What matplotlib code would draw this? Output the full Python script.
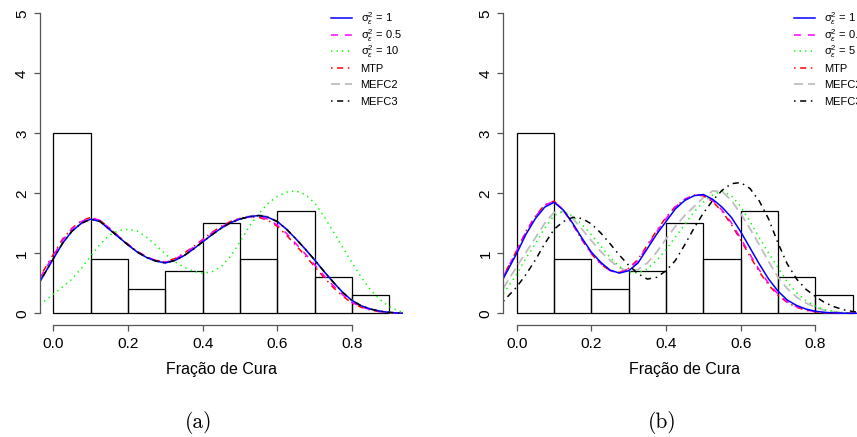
import matplotlib
matplotlib.use("Agg")
import matplotlib.pyplot as plt
from matplotlib.transforms import ScaledTranslation

plt.rcParams["font.family"] = ["Liberation Sans", "DejaVu Sans"]
plt.rcParams["mathtext.fontset"] = "custom"
plt.rcParams["mathtext.rm"] = "Liberation Sans"
plt.rcParams["mathtext.it"] = "Liberation Sans:italic"
plt.rcParams["lines.scale_dashes"] = False

# histogram of the observed cure fractions (density scale)
bin_edges = [0.0, 0.1, 0.2, 0.3, 0.4, 0.5, 0.6, 0.7, 0.8, 0.9]
bin_heights = [3.0, 0.9, 0.4, 0.7, 1.5, 0.9, 1.7, 0.6, 0.3]

# points where the fitted densities were evaluated
grid = [-0.036, 0.000, 0.025, 0.050, 0.075, 0.100, 0.125, 0.150, 0.175, 0.200,
        0.225, 0.250, 0.275, 0.300, 0.325, 0.350, 0.375, 0.400, 0.425, 0.450,
        0.475, 0.500, 0.525, 0.550, 0.575, 0.600, 0.625, 0.650, 0.675, 0.700,
        0.725, 0.750, 0.775, 0.800, 0.825, 0.850, 0.875, 0.900, 0.925, 0.936]

# panel (a): fitted densities
a_s1 = [0.53, 0.91, 1.17, 1.37, 1.50, 1.57, 1.53, 1.40, 1.27, 1.14,
        1.02, 0.93, 0.87, 0.84, 0.88, 0.96, 1.07, 1.19, 1.31, 1.42,
        1.51, 1.57, 1.61, 1.63, 1.60, 1.53, 1.40, 1.24, 1.07, 0.89,
        0.70, 0.52, 0.35, 0.215, 0.125, 0.07, 0.035, 0.015, 0.004, 0.002]
a_s05 = [0.59, 0.96, 1.22, 1.41, 1.53, 1.59, 1.55, 1.42, 1.28, 1.15,
         1.03, 0.94, 0.88, 0.85, 0.90, 0.99, 1.10, 1.22, 1.34, 1.44,
         1.52, 1.58, 1.61, 1.61, 1.57, 1.47, 1.33, 1.16, 0.99, 0.81,
         0.63, 0.46, 0.31, 0.18, 0.11, 0.06, 0.028, 0.012, 0.004, 0.001]
a_s10 = [0.14, 0.32, 0.44, 0.57, 0.75, 0.95, 1.15, 1.30, 1.38, 1.40,
         1.37, 1.27, 1.13, 0.99, 0.86, 0.77, 0.70, 0.67, 0.69, 0.78,
         0.95, 1.19, 1.45, 1.66, 1.83, 1.95, 2.02, 2.04, 1.98, 1.84,
         1.62, 1.36, 1.10, 0.85, 0.60, 0.39, 0.23, 0.11, 0.04, 0.02]
a_mtp = [0.61, 0.98, 1.24, 1.42, 1.54, 1.60, 1.55, 1.42, 1.28, 1.15,
         1.03, 0.94, 0.88, 0.86, 0.91, 1.00, 1.11, 1.23, 1.35, 1.45,
         1.53, 1.58, 1.605, 1.60, 1.55, 1.45, 1.30, 1.13, 0.96, 0.78,
         0.60, 0.43, 0.29, 0.17, 0.10, 0.055, 0.025, 0.01, 0.003, 0.001]
a_mefc2 = [0.53, 0.91, 1.17, 1.37, 1.50, 1.57, 1.53, 1.40, 1.27, 1.14,
           1.02, 0.93, 0.87, 0.84, 0.88, 0.96, 1.07, 1.19, 1.31, 1.42,
           1.51, 1.58, 1.62, 1.64, 1.61, 1.53, 1.40, 1.24, 1.07, 0.89,
           0.70, 0.52, 0.35, 0.215, 0.125, 0.07, 0.035, 0.015, 0.004, 0.002]
a_mefc3 = [0.53, 0.91, 1.17, 1.37, 1.50, 1.57, 1.53, 1.40, 1.27, 1.14,
           1.02, 0.93, 0.87, 0.84, 0.88, 0.96, 1.07, 1.19, 1.31, 1.42,
           1.51, 1.57, 1.61, 1.63, 1.60, 1.53, 1.40, 1.24, 1.07, 0.89,
           0.70, 0.52, 0.35, 0.215, 0.125, 0.07, 0.035, 0.015, 0.004, 0.002]

# panel (b): fitted densities
b_s1 = [0.58, 1.00, 1.32, 1.58, 1.77, 1.85, 1.72, 1.50, 1.25, 1.02,
        0.85, 0.72, 0.67, 0.71, 0.84, 1.08, 1.32, 1.53, 1.74, 1.88,
        1.96, 1.98, 1.90, 1.77, 1.60, 1.36, 1.09, 0.82, 0.57, 0.37,
        0.22, 0.13, 0.07, 0.035, 0.015, 0.007, 0.002, 0.0, 0.0, 0.0]
b_s05 = [0.61, 1.04, 1.36, 1.61, 1.80, 1.87, 1.72, 1.49, 1.23, 1.00,
         0.83, 0.71, 0.67, 0.74, 0.88, 1.12, 1.36, 1.58, 1.77, 1.90,
         1.97, 1.97, 1.88, 1.72, 1.51, 1.25, 0.98, 0.72, 0.50, 0.32,
         0.19, 0.11, 0.055, 0.027, 0.011, 0.005, 0.001, 0.0, 0.0, 0.0]
b_s5 = [0.33, 0.65, 0.92, 1.16, 1.42, 1.63, 1.70, 1.62, 1.48, 1.31,
        1.12, 0.93, 0.78, 0.69, 0.67, 0.74, 0.88, 1.06, 1.27, 1.48,
        1.69, 1.85, 1.97, 2.04, 1.96, 1.78, 1.53, 1.26, 1.00, 0.76,
        0.52, 0.34, 0.21, 0.12, 0.06, 0.03, 0.013, 0.005, 0.002, 0.001]
b_mtp = [0.62, 1.05, 1.37, 1.62, 1.81, 1.87, 1.72, 1.48, 1.22, 0.99,
         0.82, 0.71, 0.68, 0.75, 0.90, 1.14, 1.38, 1.60, 1.78, 1.90,
         1.97, 1.96, 1.86, 1.70, 1.48, 1.22, 0.95, 0.69, 0.47, 0.30,
         0.18, 0.10, 0.05, 0.025, 0.01, 0.004, 0.001, 0.0, 0.0, 0.0]
b_mefc2 = [0.42, 0.78, 1.02, 1.26, 1.50, 1.68, 1.70, 1.58, 1.40, 1.21,
           1.03, 0.88, 0.76, 0.70, 0.73, 0.84, 1.02, 1.24, 1.45, 1.63,
           1.78, 1.93, 2.04, 2.03, 1.88, 1.66, 1.41, 1.14, 0.86, 0.60,
           0.41, 0.27, 0.17, 0.10, 0.05, 0.025, 0.01, 0.004, 0.001, 0.0]
b_mefc3 = [0.20, 0.44, 0.65, 0.89, 1.16, 1.40, 1.53, 1.60, 1.58, 1.49,
           1.34, 1.16, 0.97, 0.80, 0.66, 0.57, 0.60, 0.71, 0.88, 1.14,
           1.42, 1.67, 1.88, 2.05, 2.16, 2.18, 2.08, 1.87, 1.57, 1.17,
           0.82, 0.57, 0.40, 0.28, 0.18, 0.11, 0.06, 0.03, 0.01, 0.007]

labels_a = ["σ$_{\\varepsilon}^{2}$ = 1", "σ$_{\\varepsilon}^{2}$ = 0.5", "σ$_{\\varepsilon}^{2}$ = 10",
            "MTP", "MEFC2", "MEFC3"]
labels_b = ["σ$_{\\varepsilon}^{2}$ = 1", "σ$_{\\varepsilon}^{2}$ = 0.5", "σ$_{\\varepsilon}^{2}$ = 5",
            "MTP", "MEFC2", "MEFC3"]

# R-like line types: solid, dashed, dotted, dotdash, longdash, dotdash
STYLES = [
    dict(color="#0000FF", linestyle="-", linewidth=1.1),
    dict(color="#FF00FF", linestyle=(0, (5, 5)), linewidth=1.1),
    dict(color="#00FF00", linestyle=(0, (1, 3)), linewidth=1.1),
    dict(color="#FF0000", linestyle=(0, (1.1, 3.3, 4.4, 3.3)), linewidth=1.1),
    dict(color="#BEBEBE", linestyle=(0, (6.5, 3.5)), linewidth=1.3),
    dict(color="#000000", linestyle=(0, (1.1, 3.3, 4.4, 3.3)), linewidth=1.1),
]
DRAW_ORDER = [4, 2, 3, 1, 0, 5]


def draw_panel(ax, curves: list[list[float]], labels: list[str]):
    """Histogram of the data with the fitted densities and an R-style legend."""
    ax.bar(bin_edges[:-1], bin_heights, width=0.1, align="edge", fill=False,
           edgecolor="black", linewidth=0.9)
    for i in DRAW_ORDER:
        ax.plot(grid, curves[i], **STYLES[i])

    ax.set_xlim(-0.036, 0.936)
    ax.set_ylim(-0.2, 5.2)
    ax.set_xticks([0.0, 0.2, 0.4, 0.6, 0.8])
    ax.set_xticklabels(["0.0", "0.2", "0.4", "0.6", "0.8"])
    ax.set_yticks([0, 1, 2, 3, 4, 5])
    ax.set_yticklabels(["0", "1", "2", "3", "4", "5"], rotation=90, va="center")

    for side in ("top", "right"):
        ax.spines[side].set_visible(False)
    ax.spines["left"].set_bounds(0, 5)
    ax.spines["bottom"].set_bounds(0, 0.8)
    for side in ("left", "bottom"):
        ax.spines[side].set_color("#555555")
        ax.spines[side].set_linewidth(0.9)
    ax.tick_params(direction="out", length=4.3, width=0.9, color="#555555", labelsize=11.1)
    ax.tick_params(axis="x", pad=4)
    ax.tick_params(axis="y", pad=3.5)
    ax.set_xlabel("Fração de Cura", fontsize=11.5, labelpad=8)

    # legend without a box, drawn row by row
    fig = ax.figure
    text_shift = ax.transAxes + ScaledTranslation(0, -0.039, fig.dpi_scale_trans)
    for i, label in enumerate(labels):
        y = 0.9475 - i * 0.0509
        ax.plot([0.802, 0.859], [y, y], transform=ax.transAxes, clip_on=False, **STYLES[i])
        ax.text(0.884, y, label, transform=text_shift, va="baseline", ha="left", fontsize=8)


fig = plt.figure(figsize=(8.57, 4.37), dpi=100)
ax_a = fig.add_axes([0.04656, 0.2556, 0.4233, 0.7414])
ax_b = fig.add_axes([0.5873, 0.2556, 0.4233, 0.7414])

draw_panel(ax_a, [a_s1, a_s05, a_s10, a_mtp, a_mefc2, a_mefc3], labels_a)
draw_panel(ax_b, [b_s1, b_s05, b_s5, b_mtp, b_mefc2, b_mefc3], labels_b)

fig.text(199 / 857, 1 - 423 / 437, "(a)", family="cmr10", fontsize=15.5, ha="center", va="center")
fig.text(662 / 857, 1 - 423 / 437, "(b)", family="cmr10", fontsize=15.5, ha="center", va="center")

fig.savefig("out.png", dpi=100)
